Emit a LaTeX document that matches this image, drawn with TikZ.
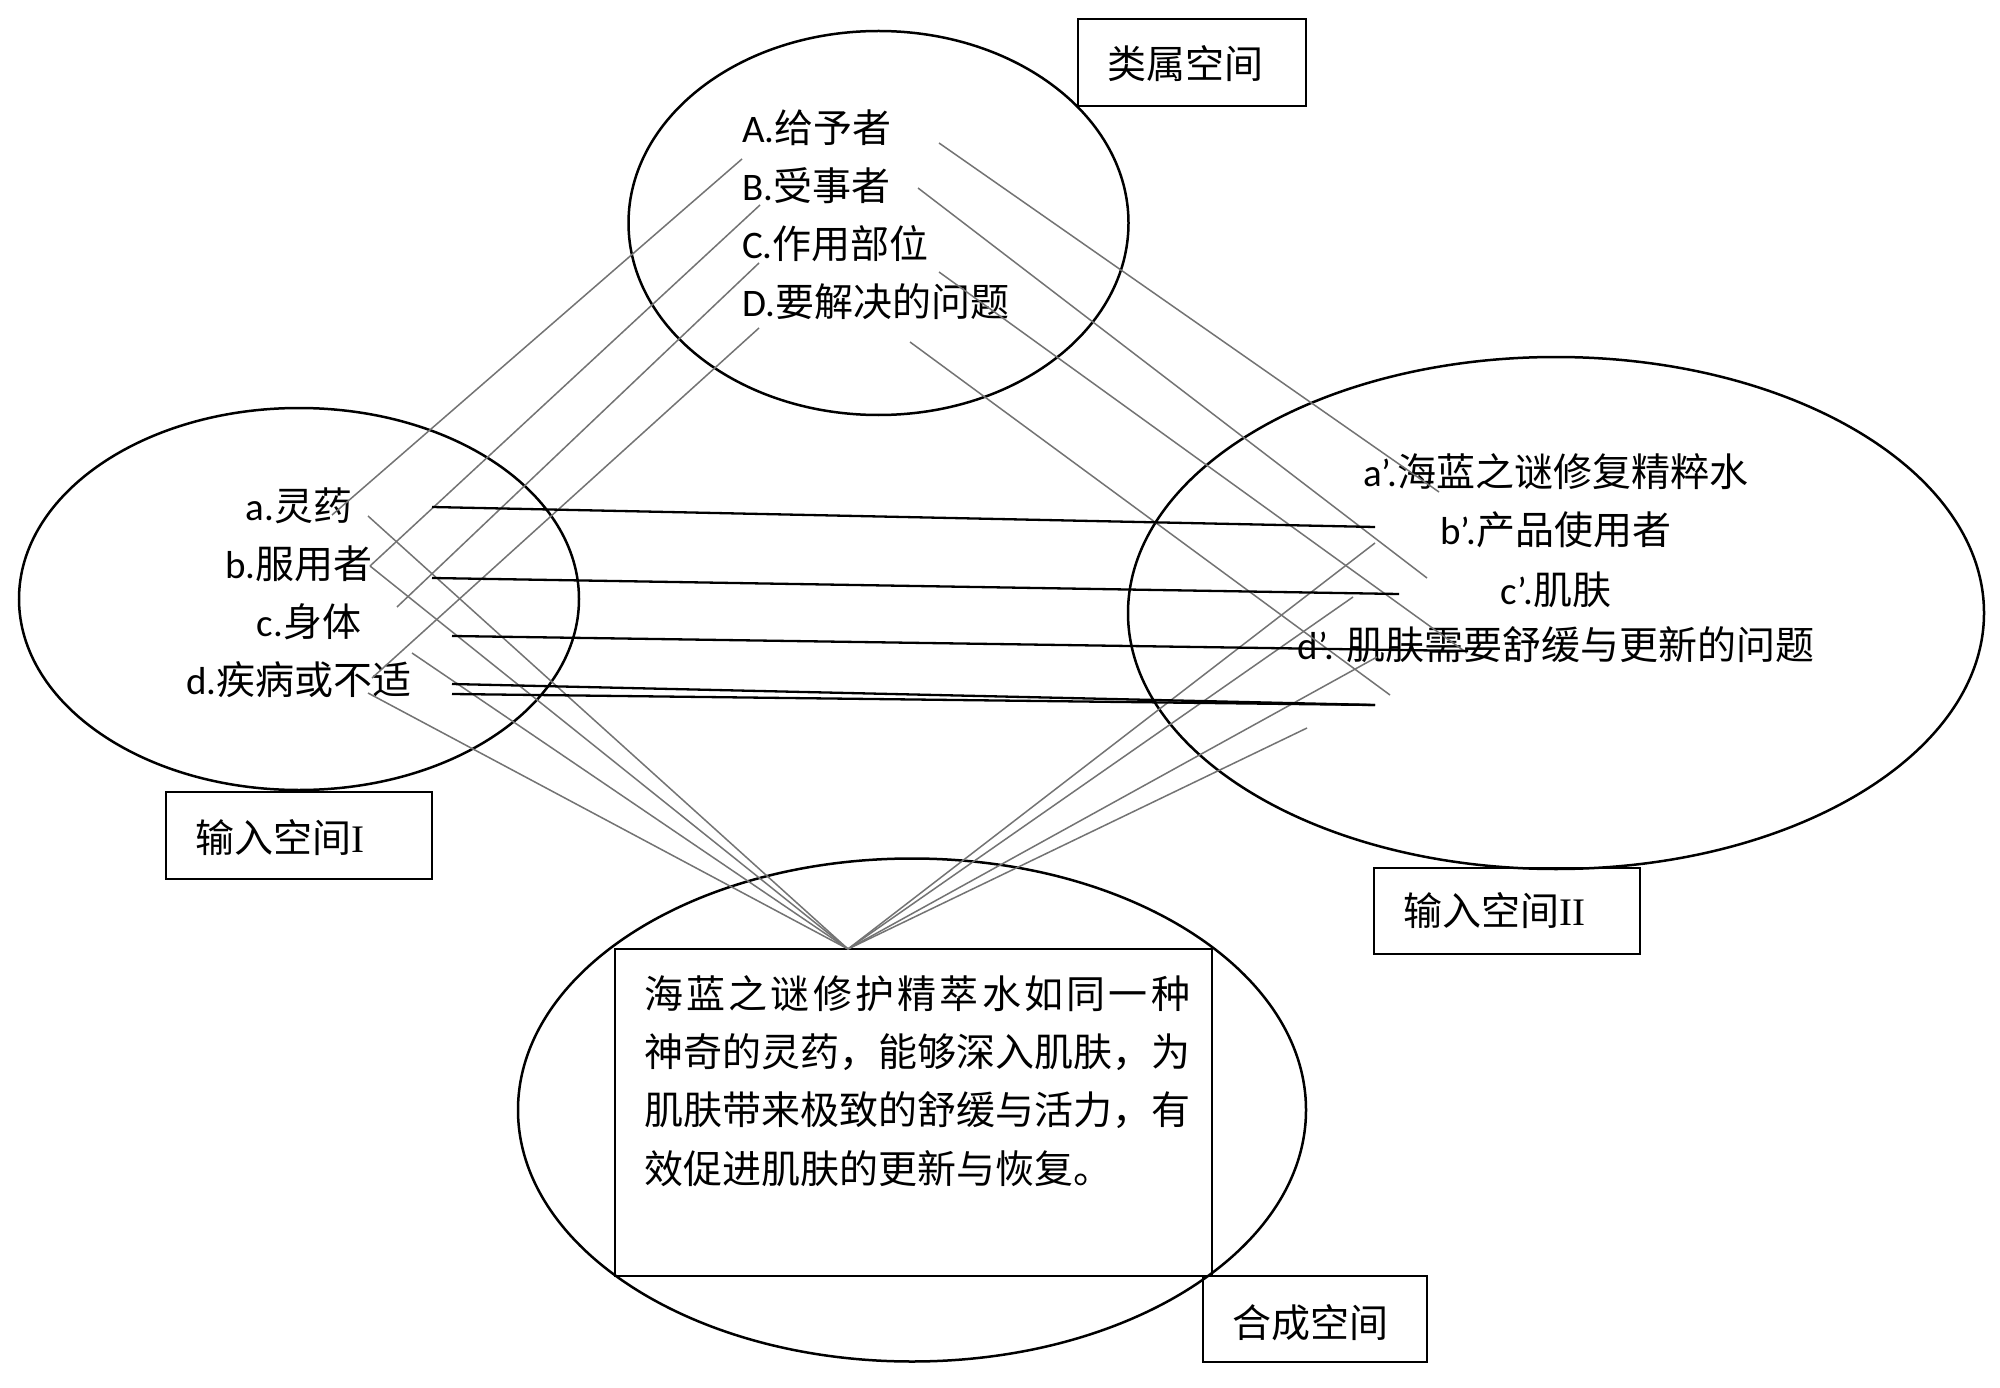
\documentclass[tikz,border=0pt]{standalone}
\usepackage{fontspec}
\setmainfont{Carlito}
\newfontfamily\cjkf{Noto Sans CJK SC}
\newfontfamily\serf{Liberation Serif}
\usetikzlibrary{shapes.geometric}
\tikzset{
  space/.style={draw, line width=2.5pt, ellipse, inner sep=0pt},
  labbox/.style={draw, line width=2.5pt, rectangle, inner sep=0pt},
  item/.style={inner sep=0pt, font=\fontsize{39}{47}\selectfont},
  graylink/.style={draw=black!55, line width=1.5pt},
  blacklink/.style={draw=black, line width=2.3pt},
}
\begin{document}
\begin{tikzpicture}[x=1pt,y=-1pt]
\fill[white] (0,0) rectangle (2000,1388);
\useasboundingbox (0,0) rectangle (2000,1388);

% spaces
\node[space, minimum width=500, minimum height=384] (generic) at (878.5,223) {};
\node[space, minimum width=560, minimum height=382] (input1) at (299,599) {};
\node[space, minimum width=856, minimum height=512] (input2) at (1556,613) {};
\node[space, minimum width=788, minimum height=503] (blend) at (912,1110) {};

% label boxes
\node[labbox, minimum width=228, minimum height=87] (genbox) at (1192,62.5) {};
\node[labbox, minimum width=266, minimum height=87] (in1box) at (299,835.5) {};
\node[labbox, minimum width=266, minimum height=86] (in2box) at (1507,911) {};
\node[labbox, minimum width=224, minimum height=86] (blendbox) at (1315,1319) {};
\node[labbox, minimum width=597, minimum height=327] (textbox) at (913.5,1112.5) {};

\node[item, anchor=west] (genlab) at (1107,64) {\cjkf 类属空间};
\node[item, anchor=west] (in1lab) at (195,838) {{\cjkf 输入空间}{\serf I}};
\node[item, anchor=west] (in2lab) at (1403,911) {{\cjkf 输入空间}{\serf II}};
\node[item, anchor=west] (blendlab) at (1232,1323) {\cjkf 合成空间};

% generic space items
\node[item, anchor=west] (A) at (742,128) {A.{\cjkf 给予者}};
\node[item, anchor=west] (B) at (742,186) {B.{\cjkf 受事者}};
\node[item, anchor=west] (C) at (742,244) {C.{\cjkf 作用部位}};
\node[item, anchor=west] (D) at (742,302) {D.{\cjkf 要解决的问题}};

% input space I items
\node[item] (a) at (299,506) {a.{\cjkf 灵药}};
\node[item] (b) at (299,564) {b.{\cjkf 服用者}};
\node[item] (c) at (309,622) {c.{\cjkf 身体}};
\node[item] (d) at (299,680) {d.{\cjkf 疾病或不适}};

% input space II items
\node[item] (a2) at (1556,472) {a’.{\cjkf 海蓝之谜修复精粹水}};
\node[item] (b2) at (1556,530) {b’.{\cjkf 产品使用者}};
\node[item] (c2) at (1556,590) {c’.{\cjkf 肌肤}};
\node[item] (d2) at (1556,645) {d’. {\cjkf 肌肤需要舒缓与更新的问题}};

% blended text
\node[item, anchor=west] (s1) at (644,994) {\makebox[546pt][l]{\cjkf 海\hfill 蓝\hfill 之\hfill 谜\hfill 修\hfill 护\hfill 精\hfill 萃\hfill 水\hfill 如\hfill 同\hfill 一\hfill 种}};
\node[item, anchor=west] (s2) at (644,1052) {\cjkf 神奇的灵药，能够深入肌肤，为};
\node[item, anchor=west] (s3) at (644,1110) {\cjkf 肌肤带来极致的舒缓与活力，有};
\node[item, anchor=west] (s4) at (644,1169) {\cjkf 效促进肌肤的更新与恢复。};

% endpoints
\coordinate (apex) at (848,949);
\coordinate (A-l) at (742,159);  \coordinate (a-t) at (332,515);
\coordinate (B-l) at (760,205);  \coordinate (b-t) at (370,566);
\coordinate (C-l) at (759,263);  \coordinate (c-t) at (397,607);
\coordinate (D-l) at (759,328);  \coordinate (d-t) at (372,678);
\coordinate (A-r) at (939,143);  \coordinate (a2-t) at (1439,492);
\coordinate (B-r) at (918,188);  \coordinate (b2-t) at (1427,578);
\coordinate (C-r) at (939,272);  \coordinate (c2-t) at (1467,653);
\coordinate (D-r) at (910,342);  \coordinate (d2-t) at (1390,695);
\coordinate (a-b) at (368,516);
\coordinate (b-b) at (370,566);
\coordinate (c-b) at (412,653);
\coordinate (d-b) at (368,693);
\coordinate (a2-b) at (1375,543);
\coordinate (b2-b) at (1353,597);
\coordinate (c2-b) at (1377,657);
\coordinate (d2-b) at (1307,728);
\coordinate (a-r) at (432,507);  \coordinate (a2-l) at (1375,527);
\coordinate (b-r) at (432,578);  \coordinate (b2-l) at (1399,594);
\coordinate (c-r) at (452,636);  \coordinate (c2-l) at (1468,651);
\coordinate (d-r1) at (452,684); \coordinate (d2-l) at (1375,705);
\coordinate (d-r2) at (452,694);

% generic -> input spaces
\draw[graylink] (A-l) -- (a-t);
\draw[graylink] (B-l) -- (b-t);
\draw[graylink] (C-l) -- (c-t);
\draw[graylink] (D-l) -- (d-t);
\draw[graylink] (A-r) -- (a2-t);
\draw[graylink] (B-r) -- (b2-t);
\draw[graylink] (C-r) -- (c2-t);
\draw[graylink] (D-r) -- (d2-t);
% input spaces -> blend
\draw[graylink] (a-b) -- (apex);
\draw[graylink] (b-b) -- (apex);
\draw[graylink] (c-b) -- (apex);
\draw[graylink] (d-b) -- (apex);
\draw[graylink] (a2-b) -- (apex);
\draw[graylink] (b2-b) -- (apex);
\draw[graylink] (c2-b) -- (apex);
\draw[graylink] (d2-b) -- (apex);
% cross-space mapping
\draw[blacklink] (a-r) -- (a2-l);
\draw[blacklink] (b-r) -- (b2-l);
\draw[blacklink] (c-r) -- (c2-l);
\draw[blacklink] (d-r1) -- (d2-l);
\draw[blacklink] (d-r2) -- (d2-l);
\end{tikzpicture}
\end{document}
